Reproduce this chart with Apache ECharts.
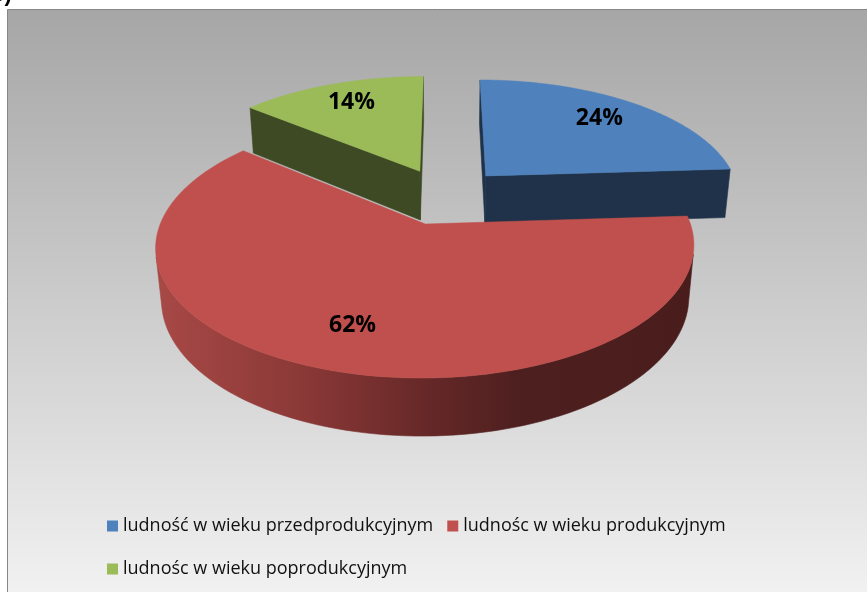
<!DOCTYPE html>
<html><head><meta charset="utf-8">
<script src="https://cdn.jsdelivr.net/npm/echarts@6/dist/echarts.min.js"></script>
<style>html,body{margin:0;padding:0;background:#fff}#c{width:867px;height:592px}</style>
</head><body><div id="c"></div>
<script>
const categories = ['ludność w wieku przedprodukcyjnym', 'ludnośc w wieku produkcyjnym', 'ludnośc w wieku poprodukcyjnym'];
const values = [24, 62, 14];
const labels = ['24%', '62%', '14%'];
const topColors = ['#4f81bd', '#c0504d', '#9bbb59'];
const wallColors = ['#1f3249', null, '#3d4a24'];

const V = {cx: 445, cy: 196, f: 1362, D: 5.34, sa: 0.4626, ca: 0.8866, h: 0.225, ex: 0.24, lr: 0.75};
function proj(X, Y, Z) {
  const yc = Y * V.ca + Z * V.sa;
  const zc = V.D + Z * V.ca - Y * V.sa;
  return [V.cx + V.f * X / zc, V.cy - V.f * yc / zc];
}
const camZ = -V.D * V.ca;
const total = values.reduce((a, b) => a + b, 0);
const starts = [];
let acc = 0;
values.forEach(v => { starts.push(acc / total * 360); acc += v; });

const redWall = new echarts.graphic.LinearGradient(155, 0, 690, 0, [
  {offset: 0, color: '#a84946'}, {offset: 0.27, color: '#8b3937'},
  {offset: 0.51, color: '#662828'}, {offset: 0.68, color: '#4e1f1f'}, {offset: 1, color: '#4a1d1d'}
], true);

function renderSlice(i) {
  return function (params, api) {
    const rad = Math.PI / 180;
    const t1 = starts[i] * rad, t2 = (starts[i] + values[i] / total * 360) * rad;
    const tm = (t1 + t2) / 2;
    const ox = V.ex * Math.sin(tm), oz = V.ex * Math.cos(tm);
    const h = V.h;
    const wallFill = wallColors[i] || redWall;
    const children = [];
    const pt = (t, r, Y) => proj(ox + r * Math.sin(t), Y, oz + r * Math.cos(t));
    const N = 120;
    let run = [];
    const flush = () => {
      if (run.length > 1) {
        const topPts = run.map(t => pt(t, 1, 0));
        const botPts = run.map(t => pt(t, 1, -h)).reverse();
        children.push({type: 'polygon', shape: {points: topPts.concat(botPts)},
          style: {fill: wallFill, stroke: wallFill, lineWidth: 0.6}});
      }
      run = [];
    };
    for (let k = 0; k <= N; k++) {
      const t = t1 + (t2 - t1) * k / N;
      const px = ox + Math.sin(t), pz = oz + Math.cos(t);
      const dot = -px * Math.sin(t) + (camZ - pz) * Math.cos(t);
      if (dot > 0) run.push(t); else flush();
    }
    flush();
    const vis = (nx, nz) => (-ox) * nx + (camZ - oz) * nz > 0;
    const radial = (t) => [pt(t, 0, 0), pt(t, 1, 0), pt(t, 1, -h), pt(t, 0, -h)];
    if (vis(-Math.cos(t1), Math.sin(t1))) children.push({type: 'polygon', shape: {points: radial(t1)}, style: {fill: wallFill, stroke: wallFill, lineWidth: 0.6}});
    if (vis(Math.cos(t2), -Math.sin(t2))) children.push({type: 'polygon', shape: {points: radial(t2)}, style: {fill: wallFill, stroke: wallFill, lineWidth: 0.6}});
    const top = [pt(t1, 0, 0)];
    for (let k = 0; k <= N; k++) top.push(pt(t1 + (t2 - t1) * k / N, 1, 0));
    children.push({type: 'polygon', shape: {points: top}, style: {fill: topColors[i], stroke: topColors[i], lineWidth: 0.5}});
    const lp = pt(tm, V.lr, 0);
    children.push({type: 'text', x: lp[0], y: lp[1] - 2, style: {text: labels[i], fill: '#000',
      font: 'bold 23px "Open Sans"', align: 'center', verticalAlign: 'middle'}});
    return {type: 'group', children};
  };
}

const zOrder = [2, 4, 3];
const series = categories.map((name, i) => ({
  type: 'custom', name, coordinateSystem: 'none', z: zOrder[i],
  itemStyle: {color: topColors[i]},
  data: [[values[i]]],
  renderItem: renderSlice(i),
  silent: true
}));

const legendStyle = {fontFamily: 'Open Sans', fontSize: 18, color: '#111'};
const chart = echarts.init(document.getElementById('c'), null, {renderer: 'canvas'});
chart.setOption({
  animation: false,
  backgroundColor: '#ffffff',
  graphic: [
    {type: 'rect', left: 7, top: 9, z: -10, shape: {width: 870, height: 590},
      style: {fill: new echarts.graphic.LinearGradient(0, 0, 0, 1, [{offset: 0, color: '#a6a6a6'}, {offset: 1, color: '#f2f2f2'}]),
        stroke: '#868686', lineWidth: 1}},
    {type: 'text', x: -9, y: 6, z: -5, style: {text: 'b)', font: 'bold 22px "Liberation Sans"', fill: '#000', verticalAlign: 'bottom'}}
  ],
  legend: [
    {data: [categories[0], categories[1]], left: 102, top: 512, itemWidth: 11, itemHeight: 11, itemGap: 14,
      icon: 'rect', textStyle: legendStyle, selectedMode: false},
    {data: [categories[2]], left: 102, top: 555, itemWidth: 11, itemHeight: 11,
      icon: 'rect', textStyle: legendStyle, selectedMode: false}
  ],
  series
});
</script></body></html>
